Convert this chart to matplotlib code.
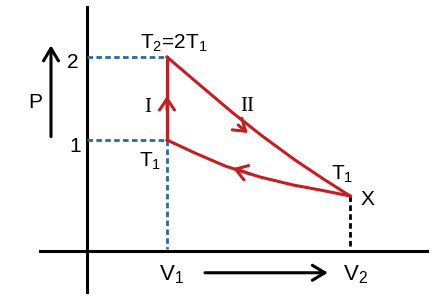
import matplotlib
matplotlib.use("Agg")
import matplotlib.pyplot as plt

plt.rcParams['font.family'] = ['Liberation Sans', 'DejaVu Sans']
plt.rcParams['mathtext.fontset'] = 'custom'
plt.rcParams['mathtext.rm'] = 'Liberation Sans'
plt.rcParams['mathtext.default'] = 'regular'

# state points (V, P)
V1, V2 = 1.0, 3.29
P_lo, P_hi, P_x = 1.0, 2.0, 0.33
P_axis = -0.34   # where the drawn V axis sits

# process II (top curve, T2 -> X)
curve2_V = [1.0, 1.41, 1.825, 2.19, 2.6, 2.975, 3.29]
curve2_P = [2.0, 1.663, 1.325, 1.048, 0.759, 0.518, 0.325]
# process X -> T1 (lower curve)
curve3_V = [3.29, 2.975, 2.575, 2.1625, 1.725, 1.35, 1.0]
curve3_P = [0.325, 0.386, 0.458, 0.554, 0.687, 0.843, 1.0]

red = '#c41e24'
blue = '#2e6a98'

fig = plt.figure(figsize=(4.43, 2.96), dpi=100)
ax = fig.add_axes([0, 0, 1, 1])
ax.set_xlim(-1.0875, 4.45)
ax.set_ylim(-0.88, 2.687)
ax.axis('off')

# axes of the diagram
ax.plot([0, 0], [-0.83, 2.60], color='black', lw=2.2)
ax.plot([-0.59, 4.25], [P_axis, P_axis], color='black', lw=2.2)

# dotted guide lines
ax.plot([0, V1], [P_hi, P_hi], color=blue, lw=2, ls=(0, (2, 1.2)))
ax.plot([0, V1], [P_lo, P_lo], color=blue, lw=2, ls=(0, (2, 1.2)))
ax.plot([V1, V1], [P_lo, P_axis + 0.03], color=blue, lw=2, ls=(0, (2, 1.2)))
ax.plot([V2, V2], [P_x, P_axis + 0.03], color='black', lw=2, ls=(0, (2, 1.2)))

# cycle
ax.plot([V1, V1], [P_lo, P_hi], color=red, lw=2.2, solid_joinstyle='round')
ax.plot(curve2_V, curve2_P, color=red, lw=2.2, solid_joinstyle='round')
ax.plot(curve3_V, curve3_P, color=red, lw=2.2, solid_joinstyle='round')

arr = dict(arrowstyle='->, head_length=0.45, head_width=0.3', color=red, lw=2.2,
           mutation_scale=18, shrinkA=0, shrinkB=0)
ax.annotate('', xy=(V1, 1.53), xytext=(V1, 1.36), arrowprops=arr)
ax.annotate('', xy=(2.01, 1.084), xytext=(1.89, 1.18), arrowprops=arr)
ax.annotate('', xy=(1.825, 0.66), xytext=(2.04, 0.59), arrowprops=arr)

# P and V arrows
blk = dict(arrowstyle='->, head_length=0.5, head_width=0.3', color='black', lw=2.2,
           mutation_scale=18, shrinkA=0, shrinkB=0)
ax.annotate('', xy=(-0.45, 2.14), xytext=(-0.45, 1.04), arrowprops=blk)
ax.annotate('', xy=(3.01, -0.60), xytext=(1.475, -0.60), arrowprops=blk)

fs = 15
ax.text(-0.65, 1.45, 'P', fontsize=fs, ha='center', va='center')
ax.text(-0.175, 1.93, '2', fontsize=fs, ha='center', va='center')
ax.text(-0.15, 0.92, '1', fontsize=fs, ha='center', va='center')
ax.text(1.09, 2.17, 'T$_2$=2T$_1$', fontsize=fs, ha='center', va='center')
ax.text(0.76, 1.39, 'I', fontsize=fs, ha='center', va='center', family='Liberation Serif')
ax.text(2.0, 1.40, 'II', fontsize=fs, ha='center', va='center', family='Liberation Serif')
ax.text(0.79, 0.74, 'T$_1$', fontsize=fs, ha='center', va='center')
ax.text(3.19, 0.58, 'T$_1$', fontsize=fs, ha='center', va='center')
ax.text(3.5, 0.28, 'X', fontsize=fs, ha='center', va='center')
ax.text(1.05, -0.62, 'V$_1$', fontsize=16, ha='center', va='center')
ax.text(3.35, -0.62, 'V$_2$', fontsize=16, ha='center', va='center')

fig.savefig('out.png', dpi=100)
